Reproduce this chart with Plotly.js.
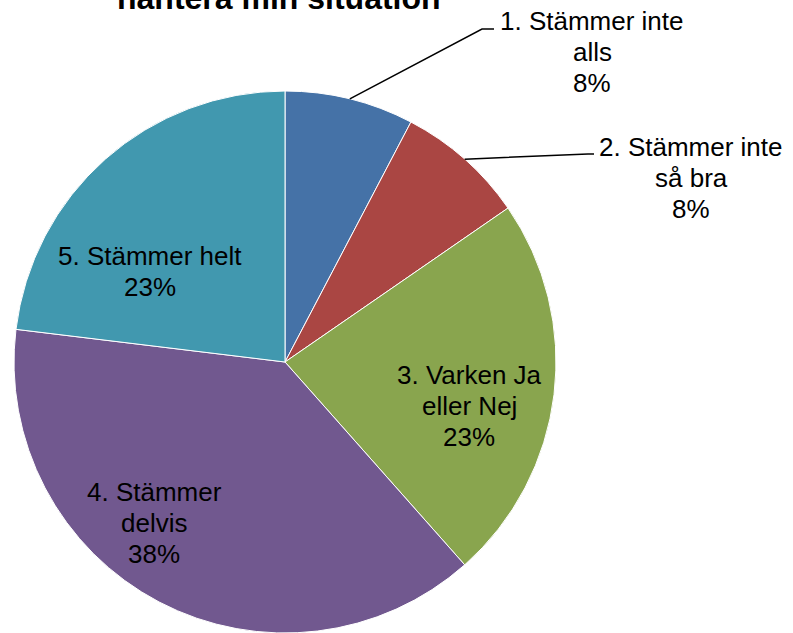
<!DOCTYPE html>
<html>
<head>
<meta charset="utf-8">
<script src="https://cdn.plot.ly/plotly-3.0.1.min.js"></script>
<style>html,body{margin:0;padding:0;background:#fff;}#chart{width:793px;height:633px;}</style>
</head>
<body>
<div id="chart"></div>
<script>
// Data
const categories = ['1. Stämmer inte alls', '2. Stämmer inte så bra', '3. Varken Ja eller Nej', '4. Stämmer delvis', '5. Stämmer helt'];
const values = [1, 1, 3, 5, 3];
const labelLines = [['1. Stämmer inte', 'alls'], ['2. Stämmer inte', 'så bra'], ['3. Varken Ja', 'eller Nej'], ['4. Stämmer', 'delvis'], ['5. Stämmer helt']];
const colors = ['#4572A7', '#AA4643', '#89A54E', '#71588F', '#4198AF'];
const titleText = 'hantera min situation';

// Layout helpers (pixel positions for label blocks: center x, first line center y)
const W = 793, H = 633;
const cx = 285, cy = 362, R = 271;
const labelPos = [[592, 21], [691, 147], [469, 375], [154, 492], [150, 256]];
const lineGap = 31;
const leaders = { 0: [[482, 29], [494, 29]], 1: [[588, 154], [594, 154]] };

const total = values.reduce((a, b) => a + b, 0);
const pct = values.map(v => Math.round(v / total * 100) + '%');

const px = x => x / W, py = y => 1 - y / H;

const annotations = [];
labelLines.forEach((lines, i) => {
  const all = lines.concat([pct[i]]);
  all.forEach((t, j) => {
    annotations.push({
      text: t, xref: 'paper', yref: 'paper',
      x: px(labelPos[i][0]), y: py(labelPos[i][1] + j * lineGap),
      xanchor: 'center', yanchor: 'middle', showarrow: false,
      font: { family: 'Liberation Sans, Arial, sans-serif', size: 26, color: '#000' }
    });
  });
});
annotations.push({
  text: '<b>' + titleText + '</b>', xref: 'paper', yref: 'paper',
  x: px(279), y: py(-2), xanchor: 'center', yanchor: 'middle', showarrow: false,
  font: { family: 'Liberation Sans, Arial, sans-serif', size: 32, color: '#000' }
});

const shapes = [];
let cum = 0;
values.forEach((v, i) => {
  const mid = (cum + v / 2) / total * 2 * Math.PI;
  cum += v;
  if (leaders[i]) {
    const sx = cx + R * Math.sin(mid), sy = cy - R * Math.cos(mid);
    const pts = [[sx, sy]].concat(leaders[i]);
    const path = pts.map((p, k) => (k ? 'L' : 'M') + px(p[0]) + ',' + py(p[1])).join(' ');
    shapes.push({ type: 'path', xref: 'paper', yref: 'paper', path: path, line: { color: '#000', width: 1.5 } });
  }
});

const data = [{
  type: 'pie',
  labels: categories,
  values: values,
  sort: false,
  direction: 'clockwise',
  rotation: 0,
  textinfo: 'none',
  hoverinfo: 'label+percent',
  marker: { colors: colors, line: { color: '#ffffff', width: 1 } },
  domain: { x: [(cx - R) / W, (cx + R) / W], y: [0, (2 * R) / H] },
  showlegend: false
}];

const layout = {
  width: W, height: H,
  margin: { l: 0, r: 0, t: 0, b: 0 },
  paper_bgcolor: '#ffffff',
  showlegend: false,
  annotations: annotations,
  shapes: shapes
};

Plotly.newPlot('chart', data, layout, { displayModeBar: false, staticPlot: true });
</script>
</body>
</html>
